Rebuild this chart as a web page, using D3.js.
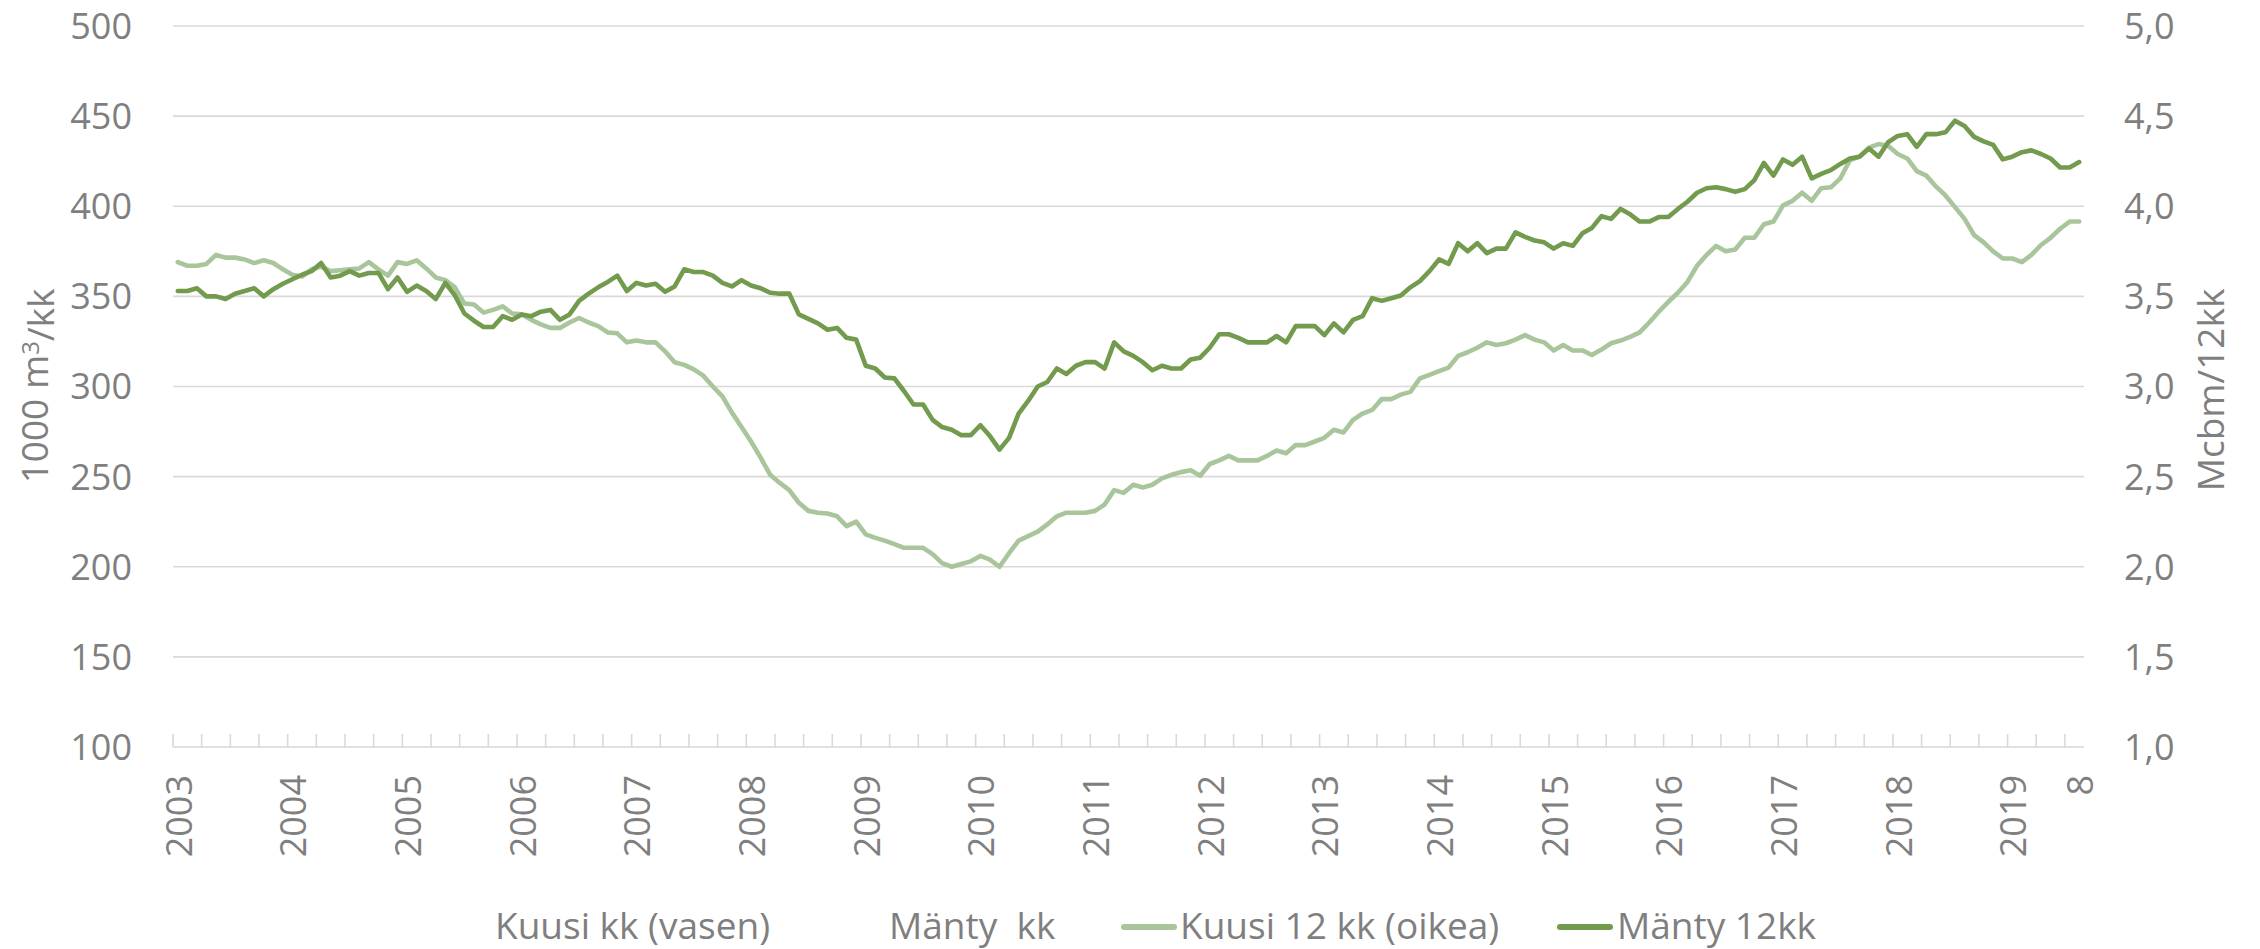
<!DOCTYPE html>
<meta charset="utf-8">
<style>
html, body { margin: 0; padding: 0; background: #fff; }
svg { display: block; font-family: 'Open Sans', sans-serif; }
.tick-label { fill: #7f7f7f; font-size: 36px; }
.axis-title { fill: #7f7f7f; font-size: 37px; }
.legend text { fill: #7f7f7f; font-size: 37px; white-space: pre; }
</style>
<body>
<script src="https://cdn.jsdelivr.net/npm/d3@7"></script>
<script>
// months Jan 2003 .. Aug 2019
var firstYear = 2003, lastYear = 2019, lastMonth = 8;
var months = [];
for (var yy = firstYear; yy <= lastYear; yy++) {
  for (var mm = 1; mm <= 12; mm++) {
    if (yy === lastYear && mm > lastMonth) break;
    months.push(yy + "-" + mm);
  }
}

// Kuusi 12 kk (oikea), Mcbm/12kk
var kuusi12 = [
  3.69, 3.67, 3.67, 3.68, 3.73, 3.715, 3.715, 3.705, 3.685, 3.70,
  3.685, 3.65, 3.62, 3.61, 3.65, 3.665, 3.64, 3.645, 3.65, 3.655,
  3.69, 3.65, 3.615, 3.69, 3.68, 3.70, 3.655, 3.605, 3.59, 3.55,
  3.46, 3.455, 3.41, 3.425, 3.445, 3.405, 3.40, 3.37, 3.345, 3.325,
  3.325, 3.355, 3.38, 3.355, 3.335, 3.30, 3.295, 3.245, 3.255, 3.245,
  3.245, 3.195, 3.135, 3.12, 3.095, 3.06, 3.00, 2.945, 2.855, 2.775,
  2.695, 2.605, 2.51, 2.465, 2.425, 2.355, 2.31, 2.30, 2.295, 2.28,
  2.225, 2.25, 2.18, 2.16, 2.145, 2.125, 2.105, 2.105, 2.105, 2.07,
  2.02, 2.00, 2.015, 2.03, 2.06, 2.04, 2.00, 2.075, 2.145, 2.17,
  2.195, 2.235, 2.28, 2.30, 2.30, 2.30, 2.31, 2.345, 2.425, 2.41,
  2.455, 2.44, 2.455, 2.49, 2.51, 2.525, 2.535, 2.505, 2.57, 2.59,
  2.615, 2.59, 2.59, 2.59, 2.615, 2.645, 2.63, 2.675, 2.675, 2.695,
  2.715, 2.76, 2.745, 2.815, 2.85, 2.87, 2.93, 2.93, 2.955, 2.97,
  3.045, 3.065, 3.085, 3.105, 3.17, 3.19, 3.215, 3.245, 3.23, 3.24,
  3.26, 3.285, 3.26, 3.245, 3.20, 3.23, 3.20, 3.20, 3.175, 3.205,
  3.24, 3.255, 3.275, 3.30, 3.355, 3.415, 3.47, 3.52, 3.58, 3.67,
  3.73, 3.78, 3.75, 3.76, 3.825, 3.825, 3.90, 3.915, 4.005, 4.03,
  4.075, 4.03, 4.10, 4.105, 4.155, 4.255, 4.275, 4.325, 4.345, 4.335,
  4.29, 4.265, 4.195, 4.17, 4.11, 4.06, 3.995, 3.93, 3.84, 3.80,
  3.75, 3.71, 3.71, 3.69, 3.73, 3.785, 3.825, 3.875, 3.915, 3.915
];

// Mänty 12kk, Mcbm/12kk
var manty12 = [
  3.53, 3.53, 3.545, 3.50, 3.50, 3.485, 3.515, 3.53, 3.545, 3.50,
  3.54, 3.57, 3.595, 3.62, 3.64, 3.685, 3.605, 3.615, 3.64, 3.615,
  3.63, 3.63, 3.54, 3.605, 3.525, 3.56, 3.53, 3.485, 3.575, 3.505,
  3.405, 3.365, 3.33, 3.33, 3.39, 3.37, 3.40, 3.39, 3.415, 3.425,
  3.37, 3.40, 3.475, 3.515, 3.55, 3.58, 3.615, 3.53, 3.575, 3.56,
  3.57, 3.525, 3.555, 3.65, 3.635, 3.635, 3.615, 3.575, 3.555, 3.59,
  3.56, 3.545, 3.52, 3.515, 3.515, 3.40, 3.375, 3.35, 3.315, 3.325,
  3.27, 3.26, 3.115, 3.10, 3.05, 3.045, 2.975, 2.90, 2.90, 2.815,
  2.775, 2.76, 2.73, 2.73, 2.785, 2.725, 2.65, 2.715, 2.85, 2.92,
  3.00, 3.025, 3.10, 3.07, 3.115, 3.135, 3.135, 3.10, 3.245, 3.195,
  3.17, 3.135, 3.09, 3.115, 3.10, 3.10, 3.15, 3.16, 3.215, 3.29,
  3.29, 3.27, 3.245, 3.245, 3.245, 3.28, 3.245, 3.335, 3.335, 3.335,
  3.285, 3.35, 3.30, 3.37, 3.39, 3.49, 3.475, 3.49, 3.505, 3.55,
  3.585, 3.64, 3.705, 3.68, 3.795, 3.75, 3.795, 3.74, 3.765, 3.765,
  3.855, 3.83, 3.81, 3.80, 3.765, 3.795, 3.78, 3.85, 3.88, 3.945,
  3.93, 3.985, 3.955, 3.915, 3.915, 3.94, 3.94, 3.985, 4.025, 4.075,
  4.10, 4.105, 4.095, 4.08, 4.095, 4.145, 4.24, 4.17, 4.26, 4.23,
  4.275, 4.155, 4.18, 4.20, 4.235, 4.265, 4.275, 4.32, 4.275, 4.355,
  4.39, 4.40, 4.33, 4.40, 4.40, 4.41, 4.475, 4.445, 4.385, 4.36,
  4.34, 4.26, 4.275, 4.30, 4.31, 4.29, 4.265, 4.215, 4.215, 4.245
];

var leftTicks = [100, 150, 200, 250, 300, 350, 400, 450, 500];
var rightTicks = [1.0, 1.5, 2.0, 2.5, 3.0, 3.5, 4.0, 4.5, 5.0];
var legendNames = ["Kuusi kk (vasen)", "Mänty  kk", "Kuusi 12 kk (oikea)", "Mänty 12kk"];
var lastLabel = "8";
</script>

<script>
var W = 2260, H = 949;
var plotLeft = 173, plotRight = 2084, plotTop = 26, plotBottom = 747;
var lightGreen = "#a9c59b", darkGreen = "#729b4d", gridColor = "#d9d9d9";

var svg = d3.select("body").append("svg")
  .attr("width", W)
  .attr("height", H);

var x = d3.scaleBand().domain(d3.range(months.length)).range([plotLeft, plotRight]);
var yL = d3.scaleLinear().domain([100, 500]).range([plotBottom, plotTop]);
var yR = d3.scaleLinear().domain([1, 5]).range([plotBottom, plotTop]);

// gridlines
svg.append("g").selectAll("line")
  .data(leftTicks)
  .enter().append("line")
  .attr("x1", plotLeft).attr("x2", plotRight)
  .attr("y1", function(d) { return yL(d); })
  .attr("y2", function(d) { return yL(d); })
  .attr("stroke", gridColor)
  .attr("stroke-width", 1.6);

// tick marks inside, every quarter
var quarterIdx = d3.range(0, months.length, 3);
svg.append("g").selectAll("line")
  .data(quarterIdx)
  .enter().append("line")
  .attr("x1", function(d) { return x(d); })
  .attr("x2", function(d) { return x(d); })
  .attr("y1", plotBottom)
  .attr("y2", plotBottom - 13)
  .attr("stroke", gridColor)
  .attr("stroke-width", 1.6);

// left tick labels
svg.append("g").selectAll("text")
  .data(leftTicks)
  .enter().append("text")
  .attr("class", "tick-label")
  .attr("x", 132)
  .attr("y", function(d) { return yL(d); })
  .attr("dy", "0.36em")
  .attr("text-anchor", "end")
  .text(function(d) { return d; });

// right tick labels
var fmt = function(d) { return d3.format(".1f")(d).replace(".", ","); };
svg.append("g").selectAll("text")
  .data(rightTicks)
  .enter().append("text")
  .attr("class", "tick-label")
  .attr("x", 2124)
  .attr("y", function(d) { return yR(d); })
  .attr("dy", "0.36em")
  .attr("text-anchor", "start")
  .text(fmt);

// x labels: years in January, last month number at the end
var xLabels = [];
months.forEach(function(m, i) {
  var parts = m.split("-");
  if (parts[1] === "1") xLabels.push({i: i, t: parts[0]});
});
xLabels.push({i: months.length - 1, t: lastLabel});

svg.append("g").selectAll("text")
  .data(xLabels)
  .enter().append("text")
  .attr("class", "tick-label")
  .attr("transform", function(d) {
    return "translate(" + (x(d.i) + x.bandwidth() / 2 + 1) + ",775) rotate(-90)";
  })
  .attr("dy", "0.36em")
  .attr("text-anchor", "end")
  .text(function(d) { return d.t; });

// axis titles
var lt = svg.append("text")
  .attr("class", "axis-title")
  .attr("transform", "translate(35,386) rotate(-90)")
  .attr("dy", "0.36em")
  .attr("text-anchor", "middle");
lt.append("tspan").text("1000 m");
lt.append("tspan").attr("dy", "-0.4em").attr("font-size", "24px").text("3");
lt.append("tspan").attr("dy", "0.4em").text("/kk");

svg.append("text")
  .attr("class", "axis-title")
  .attr("transform", "translate(2211,390) rotate(-90)")
  .attr("dy", "0.36em")
  .attr("text-anchor", "middle")
  .text("Mcbm/12kk");

// lines
var line = d3.line()
  .x(function(d, i) { return x(i) + x.bandwidth() / 2; })
  .y(function(d) { return yR(d); });

svg.append("path")
  .datum(kuusi12)
  .attr("d", line)
  .attr("fill", "none")
  .attr("stroke", lightGreen)
  .attr("stroke-width", 4.6)
  .attr("stroke-linejoin", "round")
  .attr("stroke-linecap", "round");

svg.append("path")
  .datum(manty12)
  .attr("d", line)
  .attr("fill", "none")
  .attr("stroke", darkGreen)
  .attr("stroke-width", 4.6)
  .attr("stroke-linejoin", "round")
  .attr("stroke-linecap", "round");

// legend
var legend = svg.append("g").attr("class", "legend");
var legendItems = [
  {name: legendNames[0], tx: 495, color: null},
  {name: legendNames[1], tx: 889, color: null},
  {name: legendNames[2], tx: 1180, color: lightGreen, mx: 1121},
  {name: legendNames[3], tx: 1617, color: darkGreen, mx: 1557}
];
legendItems.forEach(function(d) {
  if (d.color) {
    legend.append("line")
      .attr("x1", d.mx + 3).attr("x2", d.mx + 53)
      .attr("y1", 927).attr("y2", 927)
      .attr("stroke", d.color)
      .attr("stroke-width", 6)
      .attr("stroke-linecap", "round");
  }
  legend.append("text")
    .attr("x", d.tx)
    .attr("y", 939)
    .text(d.name);
});
</script>
</body>
